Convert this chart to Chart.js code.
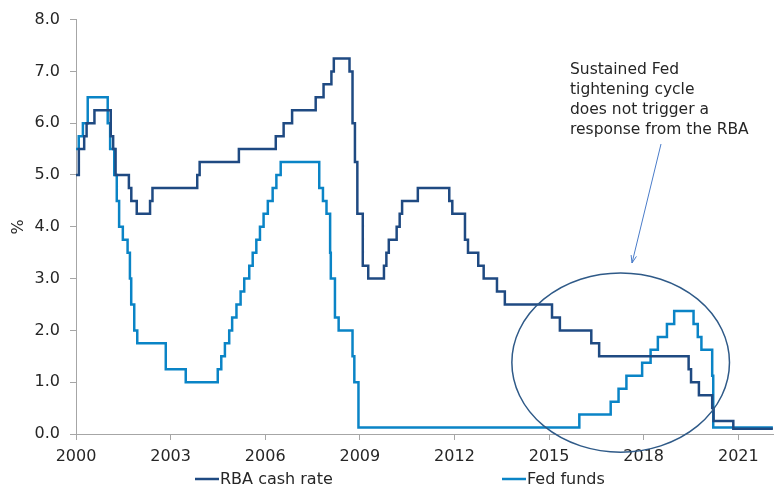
<!DOCTYPE html>
<html>
<head>
<meta charset="utf-8">
<script src="https://cdn.jsdelivr.net/npm/chart.js@4/dist/chart.umd.min.js"></script>
<style>
  html, body { margin: 0; padding: 0; background: #fff; }
  #wrap { width: 774px; height: 490px; }
</style>
</head>
<body>
<div id="wrap"><canvas id="myChart" width="774" height="490"></canvas></div>
<script>
/* Policy rates, change dates and new level (%) */
const rbaDates = ["2000-01-01","2000-02-03","2000-04-05","2000-05-03","2000-08-02","2001-02-07","2001-03-07","2001-04-04",
  "2001-09-05","2001-10-03","2001-12-05","2002-05-08","2002-06-05","2003-11-05","2003-12-03","2005-03-02",
  "2006-05-03","2006-08-02","2006-11-08","2007-08-08","2007-11-07","2008-02-06","2008-03-05","2008-09-03",
  "2008-10-08","2008-11-05","2008-12-03","2009-02-04","2009-04-08","2009-10-07","2009-11-04","2009-12-02",
  "2010-03-03","2010-04-07","2010-05-05","2010-11-03","2011-11-02","2011-12-07","2012-05-02","2012-06-06",
  "2012-10-03","2012-12-05","2013-05-08","2013-08-07","2015-02-04","2015-05-06","2016-05-04","2016-08-03",
  "2019-06-05","2019-07-03","2019-10-02","2020-03-04","2020-03-20","2020-11-04","2022-02-05"];
const rbaRates = [5.00,5.50,5.75,6.00,6.25,5.75,5.50,5.00,
  4.75,4.50,4.25,4.50,4.75,5.00,5.25,5.50,
  5.75,6.00,6.25,6.50,6.75,7.00,7.25,7.00,
  6.00,5.25,4.25,3.25,3.00,3.25,3.50,3.75,
  4.00,4.25,4.50,4.75,4.50,4.25,3.75,3.50,
  3.25,3.00,2.75,2.50,2.25,2.00,1.75,1.50,
  1.25,1.00,0.75,0.50,0.25,0.10,0.10];

const fedDates = ["2000-01-01","2000-02-02","2000-03-21","2000-05-16","2001-01-03","2001-01-31","2001-03-20","2001-04-18",
  "2001-05-15","2001-06-27","2001-08-21","2001-09-17","2001-10-02","2001-11-06","2001-12-11","2002-11-06",
  "2003-06-25","2004-06-30","2004-08-10","2004-09-21","2004-11-10","2004-12-14","2005-02-02","2005-03-22",
  "2005-05-03","2005-06-30","2005-08-09","2005-09-20","2005-11-01","2005-12-13","2006-01-31","2006-03-28",
  "2006-05-10","2006-06-29","2007-09-18","2007-10-31","2007-12-11","2008-01-22","2008-01-30","2008-03-18",
  "2008-04-30","2008-10-08","2008-10-29","2008-12-16","2015-12-17","2016-12-15","2017-03-16","2017-06-15",
  "2017-12-14","2018-03-22","2018-06-14","2018-09-27","2018-12-20","2019-08-01","2019-09-19","2019-10-31",
  "2020-03-04","2020-03-16","2022-02-05"];
const fedRates = [5.50,5.75,6.00,6.50,6.00,5.50,5.00,4.50,
  4.00,3.75,3.50,3.00,2.50,2.00,1.75,1.25,
  1.00,1.25,1.50,1.75,2.00,2.25,2.50,2.75,
  3.00,3.25,3.50,3.75,4.00,4.25,4.50,4.75,
  5.00,5.25,4.75,4.50,4.25,3.50,3.00,2.25,
  2.00,1.50,1.00,0.125,0.375,0.625,0.875,1.125,
  1.375,1.625,1.875,2.125,2.375,2.125,1.875,1.625,
  1.125,0.125,0.125];

const xTickYears = [2000, 2003, 2006, 2009, 2012, 2015, 2018, 2021];
const yTicks = [0, 1, 2, 3, 4, 5, 6, 7, 8];
const seriesNames = ["RBA cash rate", "Fed funds"];
const noteLines = ["Sustained Fed", "tightening cycle", "does not trigger a", "response from the RBA"];

const FONT = "'DejaVu Sans', Verdana, sans-serif";
const TEXT = "#262626";
const AXIS = "#a6a6a6";
const colors = ["#1f4a82", "#0a84c6"];

// "YYYY-MM-DD" -> decimal year
function toYear(s) {
  const [y, m, d] = s.split("-").map(Number);
  const start = Date.UTC(y, 0, 1);
  const len = Date.UTC(y + 1, 0, 1) - start;
  return y + (Date.UTC(y, m - 1, d) - start) / len;
}
const toPoints = (dates, vals) => dates.map((d, i) => ({ x: toYear(d), y: vals[i] }));

// ellipse + arrow + note, placed in data units
const annotationPlugin = {
  id: "note",
  afterDatasetsDraw(chart) {
    const { ctx, scales: { x, y } } = chart;
    ctx.save();
    // ellipse round the 2015-2020 period
    const cx = x.getPixelForValue(2017.27), cy = y.getPixelForValue(1.38);
    const rx = x.getPixelForValue(2017.27 + 3.45) - cx;
    const ry = cy - y.getPixelForValue(1.38 + 1.73);
    ctx.beginPath();
    ctx.ellipse(cx, cy, rx, ry, 0, 0, Math.PI * 2);
    ctx.strokeStyle = "#2f5a88";
    ctx.lineWidth = 1.5;
    ctx.stroke();

    // arrow
    const x1 = 661, y1 = 144, x2 = 632, y2 = 263;
    ctx.beginPath();
    ctx.moveTo(x1, y1);
    ctx.lineTo(x2, y2);
    ctx.strokeStyle = "#4a7cc9";
    ctx.lineWidth = 1;
    ctx.stroke();
    const ang = Math.atan2(y2 - y1, x2 - x1);
    ctx.beginPath();
    ctx.moveTo(x2, y2);
    ctx.lineTo(x2 - 8 * Math.cos(ang - 0.35), y2 - 8 * Math.sin(ang - 0.35));
    ctx.moveTo(x2, y2);
    ctx.lineTo(x2 - 8 * Math.cos(ang + 0.35), y2 - 8 * Math.sin(ang + 0.35));
    ctx.stroke();

    // note text
    ctx.fillStyle = TEXT;
    ctx.font = "15.5px " + FONT;
    ctx.textBaseline = "middle";
    ctx.textAlign = "left";
    noteLines.forEach((t, i) => ctx.fillText(t, 570, 70 + i * 20));

    // legend
    const legendX = [195, 502];
    ctx.font = "16px " + FONT;
    seriesNames.forEach((name, i) => {
      ctx.beginPath();
      ctx.moveTo(legendX[i], 479);
      ctx.lineTo(legendX[i] + 24, 479);
      ctx.strokeStyle = colors[i];
      ctx.lineWidth = 2.5;
      ctx.stroke();
      ctx.fillText(name, legendX[i] + 25, 480);
    });
    ctx.restore();
  }
};

const data = {
  datasets: [
    { label: seriesNames[0], data: toPoints(rbaDates, rbaRates), borderColor: colors[0] },
    { label: seriesNames[1], data: toPoints(fedDates, fedRates), borderColor: colors[1] }
  ]
};

const config = {
  type: "line",
  data: data,
  options: {
    responsive: false,
    animation: false,
    layout: { padding: { top: 17, right: 1, left: 0, bottom: 0 } },
    elements: {
      line: { stepped: "before", borderWidth: 2.5, fill: false },
      point: { radius: 0 }
    },
    plugins: { legend: { display: false }, tooltip: { enabled: false } },
    scales: {
      x: {
        type: "linear",
        min: 2000,
        max: 2022.1,
        afterBuildTicks: (scale) => { scale.ticks = xTickYears.map(v => ({ value: v })); },
        afterFit: (scale) => { scale.height = 56; },
        ticks: {
          color: TEXT, font: { family: FONT, size: 16 }, padding: 7, maxRotation: 0,
          callback: (v) => String(v)
        },
        grid: { drawOnChartArea: false, drawTicks: true, tickLength: 6, color: AXIS },
        border: { color: AXIS, width: 1 }
      },
      y: {
        min: 0,
        max: 8,
        afterBuildTicks: (scale) => { scale.ticks = yTicks.map(v => ({ value: v })); },
        afterFit: (scale) => { scale.width = 76; },
        ticks: {
          color: TEXT, font: { family: FONT, size: 16 }, padding: 10,
          callback: (v) => v.toFixed(1)
        },
        title: { display: true, text: "%", color: TEXT, font: { family: FONT, size: 16 }, padding: { top: 9, bottom: 0 } },
        grid: { drawOnChartArea: false, drawTicks: true, tickLength: 6, color: AXIS },
        border: { color: AXIS, width: 1 }
      }
    }
  },
  plugins: [annotationPlugin]
};

document.addEventListener("DOMContentLoaded", () => {
  new Chart(document.querySelector("#myChart"), config);
});
</script>
</body>
</html>
